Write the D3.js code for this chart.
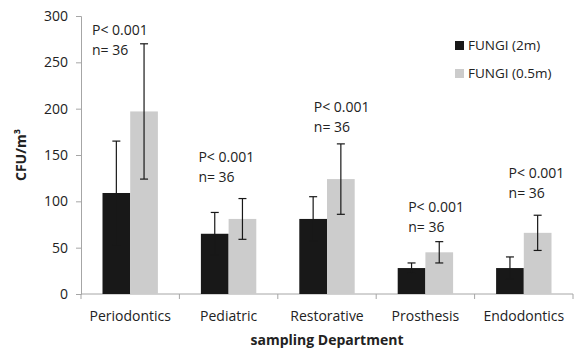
<!DOCTYPE html>
<html>
<head>
<meta charset="utf-8">
<script src="https://cdn.jsdelivr.net/npm/d3@7"></script>
<style>
body { margin: 0; background: #fff; }
</style>
</head>
<body>
<div id="chart"></div>
<script>
var categories = ["Periodontics", "Pediatric", "Restorative", "Prosthesis", "Endodontics"];
var seriesNames = ["FUNGI (2m)", "FUNGI (0.5m)"];
var fungi2m = [109, 65, 81, 28, 28];
var fungi2mErr = [56, 23, 24, 5.5, 12];
var fungi05m = [197, 81, 124, 45, 66];
var fungi05mErr = [73, 22, 38, 11.5, 19];
var pLabels = ["P< 0.001", "P< 0.001", "P< 0.001", "P< 0.001", "P< 0.001"];
var nLabels = ["n= 36", "n= 36", "n= 36", "n= 36", "n= 36"];
var yTicks = [0, 50, 100, 150, 200, 250, 300];

var colors = ["#181818", "#cccccc"];
var font = "'Open Sans', 'Liberation Sans', sans-serif";

// layout: annotation placement (pixel offsets in band / plot space)
var annotDx = [11, 19, 36, 32, 34];
var annotTop = [14, 141, 91, 191, 157];

var W = 577, H = 354;
var margin = {top: 16, right: 4, bottom: 60, left: 81},
    width = 573 - margin.left,
    height = 294 - margin.top;

var svg = d3.select("#chart").append("svg")
    .attr("width", W).attr("height", H)
    .style("font-family", font);

var g = svg.append("g")
    .attr("transform", "translate(" + margin.left + "," + margin.top + ")");

var x = d3.scaleBand().domain(categories).range([0, width]).paddingInner(0).paddingOuter(0);
var x1 = d3.scaleBand().domain([0, 1]).range([21.5, x.bandwidth() - 21.5]);
var y = d3.scaleLinear().domain([0, 300]).range([height, 0]);

// y axis
var yAxis = g.append("g").call(d3.axisLeft(y).tickValues(yTicks).tickSize(5).tickPadding(8));
yAxis.select(".domain").attr("stroke", "#a6a6a6");
yAxis.selectAll(".tick line").attr("stroke", "#a6a6a6");
yAxis.selectAll(".tick text").attr("font-size", "14px").attr("fill", "#222").attr("font-family", font);

// x axis with ticks at band boundaries
var xAxisG = g.append("g").attr("transform", "translate(0," + height + ")");
xAxisG.append("line").attr("x1", 0).attr("x2", width).attr("stroke", "#a6a6a6");
xAxisG.selectAll(".bt").data(d3.range(categories.length + 1)).enter().append("line")
    .attr("x1", d => d * x.step()).attr("x2", d => d * x.step())
    .attr("y1", 0).attr("y2", 5).attr("stroke", "#a6a6a6");
xAxisG.selectAll(".cl").data(categories).enter().append("text")
    .attr("x", d => x(d) + x.bandwidth() / 2)
    .attr("y", 27)
    .attr("text-anchor", "middle")
    .attr("font-size", "14px")
    .attr("fill", "#222")
    .text(d => d);

// bars
var series = [
    {vals: fungi2m, errs: fungi2mErr},
    {vals: fungi05m, errs: fungi05mErr}
];
series.forEach(function (s, si) {
    var grp = g.append("g");
    grp.selectAll("rect").data(categories).enter().append("rect")
        .attr("x", (d) => x(d) + x1(si))
        .attr("y", (d, i) => y(s.vals[i]))
        .attr("width", x1.bandwidth())
        .attr("height", (d, i) => height - y(s.vals[i]))
        .attr("fill", colors[si]);
});

// error bars
series.forEach(function (s, si) {
    var eg = g.append("g").attr("stroke", "#181818").attr("stroke-width", 1.2);
    categories.forEach(function (c, i) {
        var cx = x(c) + x1(si) + x1.bandwidth() / 2;
        var hi = y(s.vals[i] + s.errs[i]), lo = y(s.vals[i] - s.errs[i]);
        eg.append("line").attr("x1", cx).attr("x2", cx).attr("y1", hi).attr("y2", lo);
        eg.append("line").attr("x1", cx - 4).attr("x2", cx + 4).attr("y1", hi).attr("y2", hi);
        eg.append("line").attr("x1", cx - 4).attr("x2", cx + 4).attr("y1", lo).attr("y2", lo);
    });
});

// annotations
categories.forEach(function (c, i) {
    var tx = x(c) + annotDx[i];
    var ty = annotTop[i];
    g.append("text").attr("x", tx).attr("y", ty + 5)
        .attr("font-size", "14px").attr("fill", "#222").text(pLabels[i]);
    g.append("text").attr("x", tx).attr("y", ty + 25)
        .attr("font-size", "14px").attr("fill", "#222").text(nLabels[i]);
});

// legend
var legend = svg.append("g").attr("transform", "translate(455,45)");
seriesNames.forEach(function (name, i) {
    var lg = legend.append("g").attr("transform", "translate(0," + i * 28 + ")");
    lg.append("rect").attr("x", 0).attr("y", -4).attr("width", 9).attr("height", 9).attr("fill", colors[i]);
    lg.append("text").attr("x", 13).attr("y", 5).attr("font-size", "13.5px").attr("fill", "#222").text(name);
});

// axis titles
svg.append("text")
    .attr("transform", "translate(26," + (margin.top + height / 2) + ") rotate(-90)")
    .attr("text-anchor", "middle")
    .attr("font-size", "14px")
    .attr("font-weight", "bold")
    .attr("fill", "#222")
    .text("CFU/m³");

svg.append("text")
    .attr("x", 327).attr("y", 345)
    .attr("text-anchor", "middle")
    .attr("font-size", "14px")
    .attr("font-weight", "bold")
    .attr("fill", "#222")
    .text("sampling Department");
</script>
</body>
</html>
